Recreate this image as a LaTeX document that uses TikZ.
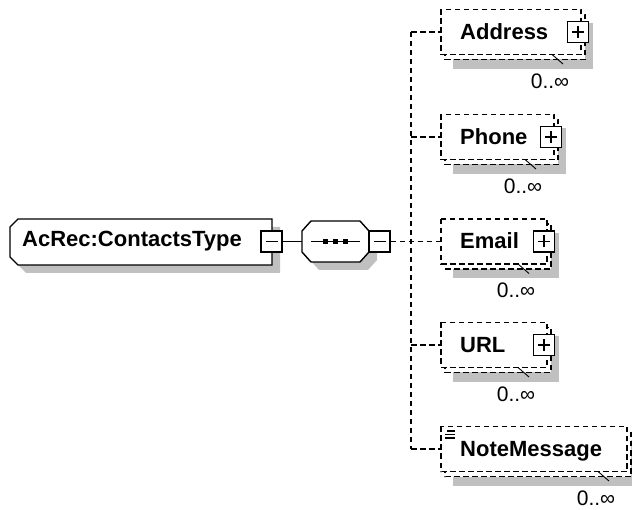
\documentclass[tikz,border=0pt]{standalone}
\usepackage{fontspec}
\setmainfont{Liberation Sans}
\definecolor{shadowgray}{RGB}{192,192,192}
\tikzset{
  lw/.style={line width=1.4pt},
  dsh/.style={line width=1.4pt, dash pattern=on 5.5pt off 3.5pt},
  pmbox/.style={draw, line width=1.4pt, fill=white, minimum size=21pt, inner sep=0pt},
  nm/.style={font=\fontsize{22}{26}\selectfont\bfseries, inner sep=0pt, anchor=base west},
  mult/.style={font=\fontsize{21}{25}\selectfont, inner sep=0pt},
}
\begin{document}
\begin{tikzpicture}[x=1pt,y=-1pt]
\useasboundingbox (0,0) rectangle (632,510);
% ---------- main element ----------
\fill[shadowgray, shift={(8,8)}] (18,219) -- (272,219) -- (272,265) -- (18,265) -- (10,257) -- (10,227) -- cycle;
\draw[lw, fill=white] (18,219) -- (272,219) -- (272,265) -- (18,265) -- (10,257) -- (10,227) -- cycle;
\node[nm] (main) at (22,247) {AcRec:ContactsType};
\node[pmbox] (m1) at (271.5,241.5) {};
\draw[lw] ([xshift=-6pt]m1.center) -- ([xshift=6pt]m1.center);
% ---------- sequence compositor ----------
\fill[shadowgray, shift={(8,8)}] (311,221) -- (360,221) -- (369,231) -- (369,252) -- (360,262) -- (311,262) -- (302,252) -- (302,231) -- cycle;
\draw[lw, fill=white] (311,221) -- (360,221) -- (369,231) -- (369,252) -- (360,262) -- (311,262) -- (302,252) -- (302,231) -- cycle;
\coordinate (seqL) at (302,241.5);
\coordinate (inL) at (311,241.5);
\coordinate (inR) at (360,241.5);
\draw[lw] (inL) -- (inR);
\fill (322.5,239) rectangle (327.5,244);
\fill (332.5,239) rectangle (337.5,244);
\fill (343,239) rectangle (348,244);
\node[pmbox] (m2) at (379.5,241.5) {};
\draw[lw] ([xshift=-6pt]m2.center) -- ([xshift=6pt]m2.center);
\draw[lw] (m1.east) -- (seqL);
% ---------- children ----------
\coordinate (vt) at (411,32);
\coordinate (vb) at (411,449);
\foreach \n/\y/\r/\t/\p in {addr/32/581/Address/1, phone/137/554/Phone/1, email/241.5/547/Email/1, url/345/547/URL/1, note/449/627/NoteMessage/0}{
  \fill[shadowgray] (453,\y-8.5) rectangle (\r+12,\y+37);
  \draw[dsh, fill=white] (445,\y-17.5) rectangle (\r+4,\y+27.5);
  \draw[dsh, fill=white] (441,\y-22.5) rectangle (\r,\y+22.5);
  \coordinate (\n) at (441,\y);
  \node[nm] (\n t) at (460,\y+7.5) {\t};
  \ifnum\p=1
    \node[pmbox] (\n p) at (\r-3,\y) {};
    \draw[lw] ([xshift=-6pt]\n p.center) -- ([xshift=6pt]\n p.center);
    \draw[lw] ([yshift=-6pt]\n p.center) -- ([yshift=6pt]\n p.center);
  \fi
  \draw[line width=0.9pt] (\r-29,\y+22.5) -- (\r-18,\y+32);
  \node[mult] (\n m) at (\r-31,\y+49) {0..∞};
}
% note icon
\draw[line width=1.1pt] (447,431) -- (455,431);
\draw[line width=1.1pt] (445,434.5) -- (455,434.5);
\draw[line width=1.1pt] (445,438) -- (455,438);
% ---------- connectors ----------
\draw[dsh] (vt) -- (vb);
\draw[dsh] (m2.east) -- (email);
\draw[dsh] (vt) -- (addr);
\draw[dsh] (411,137) -- (phone);
\draw[dsh] (411,345) -- (url);
\draw[dsh] (vb) -- (note);
\end{tikzpicture}
\end{document}
